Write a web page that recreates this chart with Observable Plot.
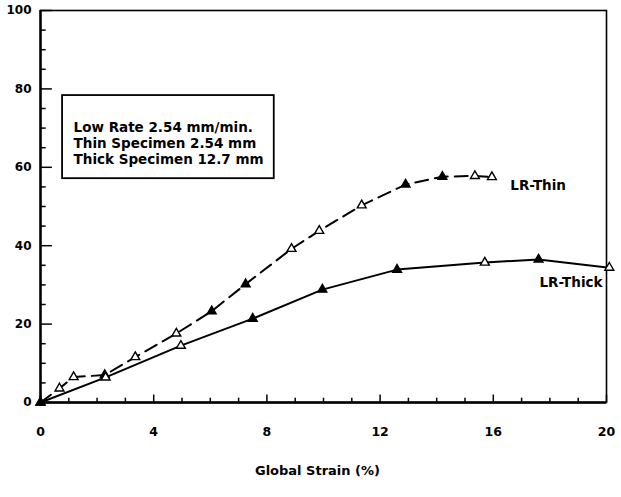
<!DOCTYPE html>
<html><head><meta charset="utf-8">
<script src="https://cdn.jsdelivr.net/npm/d3@7"></script>
<script src="https://cdn.jsdelivr.net/npm/@observablehq/plot@0.6"></script>
<style>body{margin:0;background:#fff}</style>
</head><body><div id="chart"></div>
<script>
// LR-Thin (dashed) series
const thinStrain = [0, 0.67, 1.17, 2.27, 3.35, 4.8, 6.05, 7.25, 8.87, 9.85, 11.35, 12.9, 14.2, 15.35, 15.95];
const thinLoad   = [0, 3.6, 6.5, 7.0, 11.6, 17.6, 23.3, 30.2, 39.2, 43.8, 50.3, 55.6, 57.6, 57.8, 57.5];
const thinFilled = [1, 0, 0, 1, 0, 0, 1, 1, 0, 0, 0, 1, 1, 0, 0];
// LR-Thick (solid) series
const thickStrain = [0, 2.3, 4.96, 7.5, 9.96, 12.6, 15.7, 17.6, 20.1];
const thickLoad   = [0, 6.4, 14.5, 21.4, 28.8, 33.9, 35.7, 36.5, 34.4];
const thickFilled = [1, 0, 0, 1, 1, 1, 0, 1, 0];
// ticks
const xTickLabels = [0, 4, 8, 12, 16, 20];
const yTickLabels = [0, 20, 40, 60, 80, 100];
const xMinorTicks = d3.range(0, 21, 1);
const yMinorTicks = d3.range(0, 101, 5);
// annotations
const noteLines = ["Low Rate 2.54 mm/min.", "Thin Specimen 2.54 mm", "Thick Specimen 12.7 mm"];
const seriesNames = ["LR-Thin", "LR-Thick"];
const xLabel = "Global Strain (%)";

const thin = thinStrain.map((x, i) => ({x, y: thinLoad[i], filled: thinFilled[i]}));
const thick = thickStrain.map((x, i) => ({x, y: thickLoad[i], filled: thickFilled[i]}));

const font = "DejaVu Sans, sans-serif";
const chart = Plot.plot({
  width: 621, height: 497,
  marginLeft: 40, marginRight: 15, marginTop: 10, marginBottom: 95,
  x: {domain: [0, 20]},
  y: {domain: [0, 100]},
  color: {type: "identity"},
  style: {fontFamily: font, background: "#fff", color: "#000"},
  marks: [
    Plot.frame({strokeWidth: 1.6}),
    Plot.ruleY([0], {strokeWidth: 2.4}),
    Plot.ruleX([0], {strokeWidth: 2.4}),
    Plot.ruleX(xMinorTicks, {x: d => d, y1: 0, y2: d => d % 4 === 0 ? 1.9 : 1.1, strokeWidth: 1.5}),
    Plot.ruleY(yMinorTicks, {y: d => d, x1: 0, x2: d => d % 20 === 0 ? 0.42 : 0.2, strokeWidth: 1.5}),
    Plot.axisX(xTickLabels, {tickSize: 0, tickPadding: 25, fontSize: 12.5, fontWeight: "bold", label: null}),
    Plot.axisY(yTickLabels, {tickSize: 0, tickPadding: 9, fontSize: 12, fontWeight: "bold", label: null}),
    Plot.rect([{}], {x1: 0.78, x2: 8.26, y1: 57.1, y2: 78.3, fill: "white", stroke: "black", strokeWidth: 1.8}),
    Plot.text([noteLines.join("\n")], {x: 1.17, y: 66.3, text: d => d, textAnchor: "start", lineAnchor: "middle", lineHeight: 1.19, fontSize: 13.5, fontWeight: "bold", fill: "black"}),
    Plot.line(thin, {x: "x", y: "y", stroke: "black", strokeWidth: 2, strokeDasharray: "13,7"}),
    Plot.line(thick, {x: "x", y: "y", stroke: "black", strokeWidth: 2}),
    Plot.dot(thin.concat(thick), {x: "x", y: "y", symbol: "triangle", r: 3.3, fill: d => d.filled ? "black" : "white", stroke: "black", strokeWidth: 1.4}),
    Plot.text([seriesNames[0]], {x: 16.6, y: 55.4, text: d => d, textAnchor: "start", fontSize: 13.5, fontWeight: "bold", fill: "black"}),
    Plot.text([seriesNames[1]], {x: 19.86, y: 30.6, text: d => d, textAnchor: "end", fontSize: 13.5, fontWeight: "bold", fill: "black"}),
    Plot.text([xLabel], {frameAnchor: "bottom", dy: 72, dx: -6, text: d => d, fontSize: 13, fontWeight: "bold", fill: "black"})
  ]
});
document.getElementById("chart").appendChild(chart);
</script>
</body></html>
